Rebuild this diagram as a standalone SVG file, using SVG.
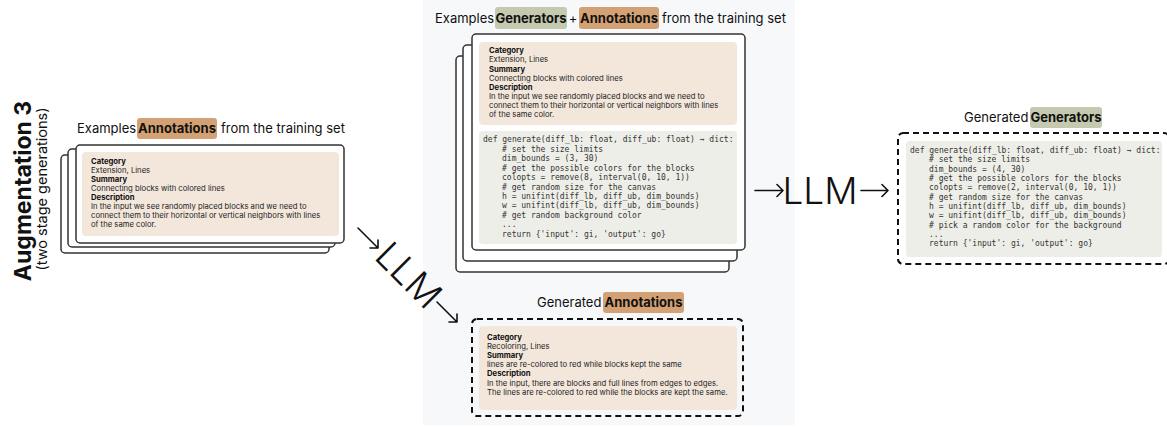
<svg xmlns="http://www.w3.org/2000/svg" width="1167" height="427" viewBox="0 0 1167 427">
<style>
.t{font-family:Inter,"Noto Sans","Liberation Sans",sans-serif;fill:#111}
.ttl{font-size:13px}
.b{font-weight:700}
.body{font-family:Inter,"Noto Sans","Liberation Sans",sans-serif;font-size:7.7px;fill:#222}
.body .h{font-weight:700;fill:#111}
.code{font-family:"DejaVu Sans Mono","Liberation Mono",monospace;font-size:8px;fill:#333}
.card{fill:#fff;stroke:#333;stroke-width:1.5}
.beige{fill:#f3e7dc}
.codebox{fill:#eeeee8}
.hlA{fill:#d3a173}
.hlG{fill:#c5c9af}
.dash{fill:none;stroke:#111;stroke-width:2;stroke-dasharray:6 4}
.arr{fill:none;stroke:#111;stroke-width:1.6;stroke-linecap:round;stroke-linejoin:round}
.llm{font-family:Inter,"Noto Sans","Liberation Sans",sans-serif;font-size:37px;font-weight:300;fill:#111}
</style>
<rect x="0" y="0" width="1167" height="427" fill="#fff"/>
<rect id="panel" x="423" y="0" width="372" height="425" fill="#f7f8fa"/>

<g id="section-title">
<text class="t b" font-size="23" transform="translate(30.5,191) rotate(-90)" text-anchor="middle">Augmentation 3</text>
<text class="t" font-size="14.5" transform="translate(46.5,189) rotate(-90)" text-anchor="middle">(two stage generations)</text>
</g>

<g id="examples-annotations">
<text class="t ttl" x="77" y="133">Examples</text>
<rect class="hlA" x="137" y="118" width="80" height="21" rx="3"/>
<text class="t ttl b" x="177" y="133" text-anchor="middle">Annotations</text>
<text class="t ttl" x="221" y="133">from the training set</text>
<rect class="card" x="61" y="155" width="268" height="98" rx="4"/>
<rect class="card" x="68" y="149" width="267" height="98" rx="4"/>
<rect class="card" x="76" y="145" width="268" height="98" rx="4"/>
<rect class="beige" x="82" y="152" width="257" height="84" rx="4"/>
<g class="body">
<text x="91" y="163.7" class="h">Category</text>
<text x="91" y="172.8">Extension, Lines</text>
<text x="91" y="181.9" class="h">Summary</text>
<text x="91" y="191">Connecting blocks with colored lines</text>
<text x="91" y="200.1" class="h">Description</text>
<text x="91" y="209.2">In the input we see randomly placed blocks and we need to</text>
<text x="91" y="218.3">connect them to their horizontal or vertical neighbors with lines</text>
<text x="91" y="227.4">of the same color.</text>
</g>
</g>

<g id="examples-generators-annotations">
<text class="t ttl" x="435" y="23">Examples</text>
<rect class="hlG" x="495" y="7" width="72" height="22" rx="3"/>
<text class="t ttl b" x="531" y="23" text-anchor="middle">Generators</text>
<text class="t ttl" x="573" y="23" text-anchor="middle">+</text>
<rect class="hlA" x="579" y="7" width="80" height="22" rx="3"/>
<text class="t ttl b" x="619" y="23" text-anchor="middle">Annotations</text>
<text class="t ttl" x="662" y="23">from the training set</text>
<rect class="card" x="456" y="56" width="273" height="216" rx="4"/>
<rect class="card" x="463" y="45" width="274" height="216" rx="4"/>
<rect class="card" x="472" y="34" width="273" height="216" rx="4"/>
<rect class="beige" x="479" y="42" width="258" height="83" rx="4"/>
<g class="body">
<text x="489" y="53.3" class="h">Category</text>
<text x="489" y="62.4">Extension, Lines</text>
<text x="489" y="71.5" class="h">Summary</text>
<text x="489" y="80.6">Connecting blocks with colored lines</text>
<text x="489" y="89.7" class="h">Description</text>
<text x="489" y="98.8">In the input we see randomly placed blocks and we need to</text>
<text x="489" y="107.9">connect them to their horizontal or vertical neighbors with lines</text>
<text x="489" y="117">of the same color.</text>
</g>
<rect class="codebox" x="479" y="131" width="258" height="113" rx="4"/>
<g class="code">
<text x="483" y="142.3">def generate(diff_lb: float, diff_ub: float) → dict:</text>
<text x="502" y="151.7"># set the size limits</text>
<text x="502" y="161.2">dim_bounds = (3, 30)</text>
<text x="502" y="170.6"># get the possible colors for the blocks</text>
<text x="502" y="180.1">colopts = remove(8, interval(0, 10, 1))</text>
<text x="502" y="189.5"># get random size for the canvas</text>
<text x="502" y="199">h = unifint(diff_lb, diff_ub, dim_bounds)</text>
<text x="502" y="208.4">w = unifint(diff_lb, diff_ub, dim_bounds)</text>
<text x="502" y="217.9"># get random background color</text>
<text x="502" y="227.3">...</text>
<text x="502" y="236.8">return {'input': gi, 'output': go}</text>
</g>
</g>

<g id="generated-annotations">
<text class="t ttl" x="537" y="306.7">Generated</text>
<rect class="hlA" x="603" y="292" width="81" height="21" rx="3"/>
<text class="t ttl b" x="643.5" y="306.7" text-anchor="middle">Annotations</text>
<rect class="dash" x="472" y="319" width="271" height="97" rx="5"/>
<rect class="beige" x="479" y="326" width="258" height="84" rx="4"/>
<g class="body">
<text x="487" y="340" class="h">Category</text>
<text x="487" y="349.1">Recoloring, Lines</text>
<text x="487" y="358.2" class="h">Summary</text>
<text x="487" y="367.3">lines are re-colored to red while blocks kept the same</text>
<text x="487" y="376.4" class="h">Description</text>
<text x="487" y="385.5">In the input, there are blocks and full lines from edges to edges.</text>
<text x="487" y="394.6">The lines are re-colored to red while the blocks are kept the same.</text>
</g>
</g>

<g id="generated-generators">
<text class="t ttl" x="964" y="121.7">Generated</text>
<rect class="hlG" x="1030" y="107" width="72" height="21" rx="3"/>
<text class="t ttl b" x="1066" y="121.7" text-anchor="middle">Generators</text>
<rect class="dash" x="898" y="133" width="271" height="131" rx="5"/>
<rect class="codebox" x="906" y="141" width="256" height="116" rx="4"/>
<g class="code">
<text x="910" y="153">def generate(diff_lb: float, diff_ub: float) → dict:</text>
<text x="929" y="162.3"># set the size limits</text>
<text x="929" y="171.7">dim_bounds = (4, 30)</text>
<text x="929" y="181"># get the possible colors for the blocks</text>
<text x="929" y="190.3">colopts = remove(2, interval(0, 10, 1))</text>
<text x="929" y="199.7"># get random size for the canvas</text>
<text x="929" y="209">h = unifint(diff_lb, diff_ub, dim_bounds)</text>
<text x="929" y="218.3">w = unifint(diff_lb, diff_ub, dim_bounds)</text>
<text x="929" y="227.7"># pick a random color for the background</text>
<text x="929" y="237">...</text>
<text x="929" y="246.3">return {'input': gi, 'output': go}</text>
</g>
</g>

<g id="connectors">
<path class="arr" d="M358 228 L378 248 M370 248 L378 248 L378 240"/>
<text class="llm" transform="translate(409,275) rotate(45)" y="13.5" text-anchor="middle">LLM</text>
<path class="arr" d="M437 302 L457 322 M449 322 L457 322 L457 314"/>
<path class="arr" d="M755 190.5 L783 190.5 M777 184.5 L783 190.5 L777 196.5"/>
<text class="llm" x="820" y="203.5" text-anchor="middle">LLM</text>
<path class="arr" d="M861 190.5 L888 190.5 M882 184.5 L888 190.5 L882 196.5"/>
</g>
</svg>
